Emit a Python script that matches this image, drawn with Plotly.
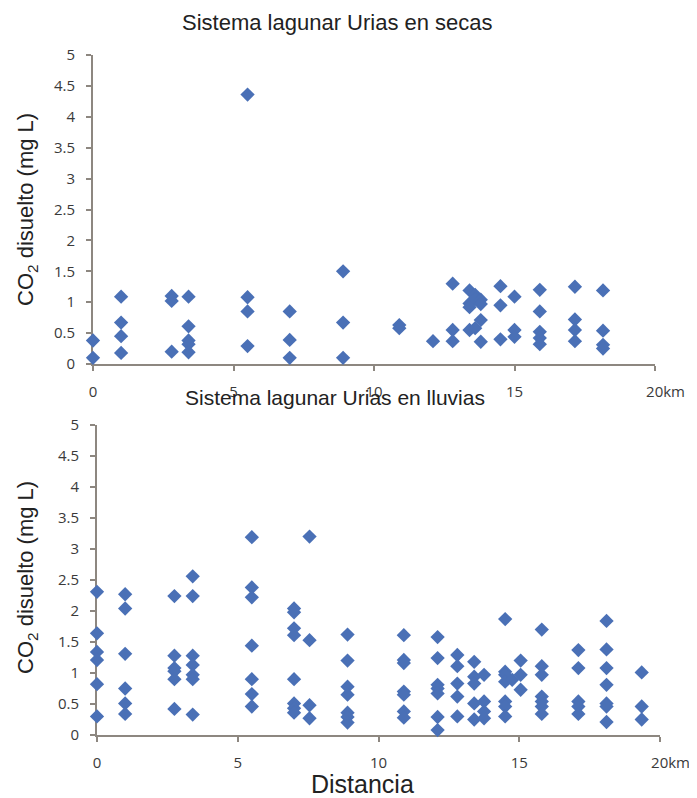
import plotly.graph_objects as go

# Dry season (secas): distance (km) and dissolved CO2 (mg L)
secas_dist = [0, 0,
              1.0, 1.0, 1.0, 1.0,
              2.8, 2.8, 2.8,
              3.4, 3.4, 3.4, 3.4, 3.4,
              5.5, 5.5, 5.5, 5.5,
              7.0, 7.0, 7.0,
              8.9, 8.9, 8.9,
              10.9, 10.9,
              12.1,
              12.8, 12.8, 12.8,
              13.4, 13.4, 13.4, 13.4,
              13.6, 13.6, 13.6,
              13.8, 13.8, 13.8, 13.8,
              14.5, 14.5, 14.5,
              15.0, 15.0, 15.0,
              15.9, 15.9, 15.9, 15.9, 15.9,
              17.15, 17.15, 17.15, 17.15,
              18.15, 18.15, 18.15, 18.15]
secas_co2 = [0.38, 0.10,
             1.09, 0.67, 0.45, 0.18,
             1.10, 1.02, 0.20,
             1.09, 0.61, 0.38, 0.32, 0.19,
             4.36, 1.08, 0.85, 0.29,
             0.85, 0.39, 0.10,
             1.50, 0.67, 0.10,
             0.63, 0.58,
             0.37,
             1.30, 0.55, 0.37,
             1.19, 0.98, 0.92, 0.55,
             1.12, 1.05, 0.58,
             1.04, 0.97, 0.71, 0.36,
             1.26, 0.95, 0.40,
             1.09, 0.55, 0.44,
             1.20, 0.85, 0.52, 0.42, 0.32,
             1.25, 0.72, 0.55, 0.37,
             1.19, 0.54, 0.31, 0.25]

# Rainy season (lluvias)
lluvias_dist = [0, 0, 0, 0, 0, 0,
                1.0, 1.0, 1.0, 1.0, 1.0, 1.0,
                2.75, 2.75, 2.75, 2.75, 2.75, 2.75,
                3.4, 3.4, 3.4, 3.4, 3.4, 3.4, 3.4,
                5.5, 5.5, 5.5, 5.5, 5.5, 5.5, 5.5,
                7.0, 7.0, 7.0, 7.0, 7.0, 7.0, 7.0, 7.0,
                7.55, 7.55, 7.55, 7.55,
                8.9, 8.9, 8.9, 8.9, 8.9, 8.9, 8.9,
                10.9, 10.9, 10.9, 10.9, 10.9, 10.9, 10.9,
                12.1, 12.1, 12.1, 12.1, 12.1, 12.1, 12.1,
                12.8, 12.8, 12.8, 12.8, 12.8,
                13.4, 13.4, 13.4, 13.4, 13.4,
                13.75, 13.75, 13.75, 13.75,
                14.5, 14.5, 14.5, 14.5, 14.5, 14.5, 14.5,
                14.75,
                15.05, 15.05, 15.05,
                15.8, 15.8, 15.8, 15.8, 15.8, 15.8, 15.8,
                17.1, 17.1, 17.1, 17.1, 17.1,
                18.1, 18.1, 18.1, 18.1, 18.1, 18.1, 18.1,
                19.35, 19.35, 19.35]
lluvias_co2 = [2.31, 1.64, 1.34, 1.21, 0.82, 0.30,
               2.27, 2.04, 1.31, 0.75, 0.51, 0.34,
               2.24, 1.28, 1.08, 1.03, 0.90, 0.42,
               2.56, 2.24, 1.28, 1.13, 0.97, 0.90, 0.33,
               3.19, 2.38, 2.22, 1.44, 0.90, 0.66, 0.46,
               2.04, 1.98, 1.72, 1.61, 0.90, 0.51, 0.43, 0.36,
               3.20, 1.53, 0.48, 0.27,
               1.62, 1.20, 0.78, 0.65, 0.36, 0.29, 0.20,
               1.61, 1.21, 1.16, 0.70, 0.65, 0.38, 0.28,
               1.58, 1.24, 0.81, 0.75, 0.67, 0.29, 0.08,
               1.29, 1.11, 0.83, 0.62, 0.30,
               1.18, 0.94, 0.83, 0.51, 0.25,
               0.97, 0.54, 0.38, 0.27,
               1.87, 1.02, 0.97, 0.86, 0.54, 0.46, 0.30,
               0.89,
               1.20, 0.97, 0.73,
               1.70, 1.11, 0.97, 0.62, 0.54, 0.46, 0.34,
               1.37, 1.08, 0.54, 0.46, 0.34,
               1.84, 1.38, 1.08, 0.81, 0.51, 0.46, 0.21,
               1.01, 0.46, 0.25]

x_tickvals = [0, 5, 10, 15, 20]
# figure spaces keep "20" centred on its tick with "km" trailing, as in the original
x_ticktext = ["0", "5", "10", "15", "\u2007\u2007\u00a020km"]
y_tickvals = [0, 0.5, 1, 1.5, 2, 2.5, 3, 3.5, 4, 4.5, 5]
y_ticktext = ["0", "0.5", "1", "1.5", "2", "2.5", "3", "3.5", "4", "4.5", "5"]

titles = ["Sistema lagunar Urias en secas", "Sistema lagunar Urias en lluvias"]
y_title = "CO<sub>2</sub> disuelto (mg L)"
x_title = "Distancia"

W, H = 697, 798
OFF = 8  # page body margin
MARK = "#4a70b6"
AXC = "#8d8780"
TICKFONT = dict(family="Open Sans, Liberation Sans, sans-serif", size=15, color="#3a3a3a")
LABFONT = "Liberation Sans, Arial, sans-serif"

fig = go.Figure()
fig.add_trace(go.Scatter(x=secas_dist, y=secas_co2, mode="markers",
                         marker=dict(symbol="diamond", size=11, color=MARK),
                         cliponaxis=False, xaxis="x", yaxis="y", showlegend=False))
fig.add_trace(go.Scatter(x=lluvias_dist, y=lluvias_co2, mode="markers",
                         marker=dict(symbol="diamond", size=11, color=MARK),
                         cliponaxis=False, xaxis="x2", yaxis="y2", showlegend=False))

def xax(domain, anchor, standoff):
    return dict(domain=domain, anchor=anchor, range=[0, 20], tickvals=x_tickvals,
                ticktext=x_ticktext, showgrid=False, zeroline=False, showline=True,
                linecolor=AXC, linewidth=2, ticks="outside", ticklen=5, tickcolor=AXC,
                tickwidth=2, tickfont=TICKFONT, ticklabelstandoff=standoff,
                layer="below traces", automargin=False)

def yax(domain, anchor):
    return dict(domain=domain, anchor=anchor, range=[0, 5], tickvals=y_tickvals,
                ticktext=y_ticktext, showgrid=False, zeroline=False, showline=True,
                linecolor=AXC, linewidth=2, ticks="outside", ticklen=5, tickcolor=AXC,
                tickwidth=2, tickfont=TICKFONT, ticklabelstandoff=8, layer="below traces",
                automargin=False)

def fx(px):
    return (px - OFF) / W

def fy(py):
    return 1 - (py - OFF) / H

def ann(text, x, y, size, angle=0):
    return dict(text=text, x=fx(x), y=fy(y), xref="paper", yref="paper",
                xanchor="center", yanchor="middle", textangle=angle, showarrow=False,
                font=dict(family=LABFONT, size=size, color="#222"))

fig.update_layout(
    template="none",
    width=W, height=H, margin=dict(l=0, r=0, t=0, b=0, autoexpand=False),
    paper_bgcolor="white", plot_bgcolor="white",
    xaxis=xax([fx(93), fx(655)], "y", 8),
    yaxis=yax([fy(364), fy(55)], "x"),
    xaxis2=xax([fx(97), fx(660)], "y2", 8),
    yaxis2=yax([fy(735), fy(425)], "x2"),
    annotations=[
        ann(titles[0], 337, 22, 22),
        ann(titles[1], 335, 397, 21),
        ann(y_title, 27, 210, 22, -90),
        ann(y_title, 27, 578, 22, -90),
        ann(x_title, 362, 784, 25),
    ],
)

fig.write_html("out.html")
